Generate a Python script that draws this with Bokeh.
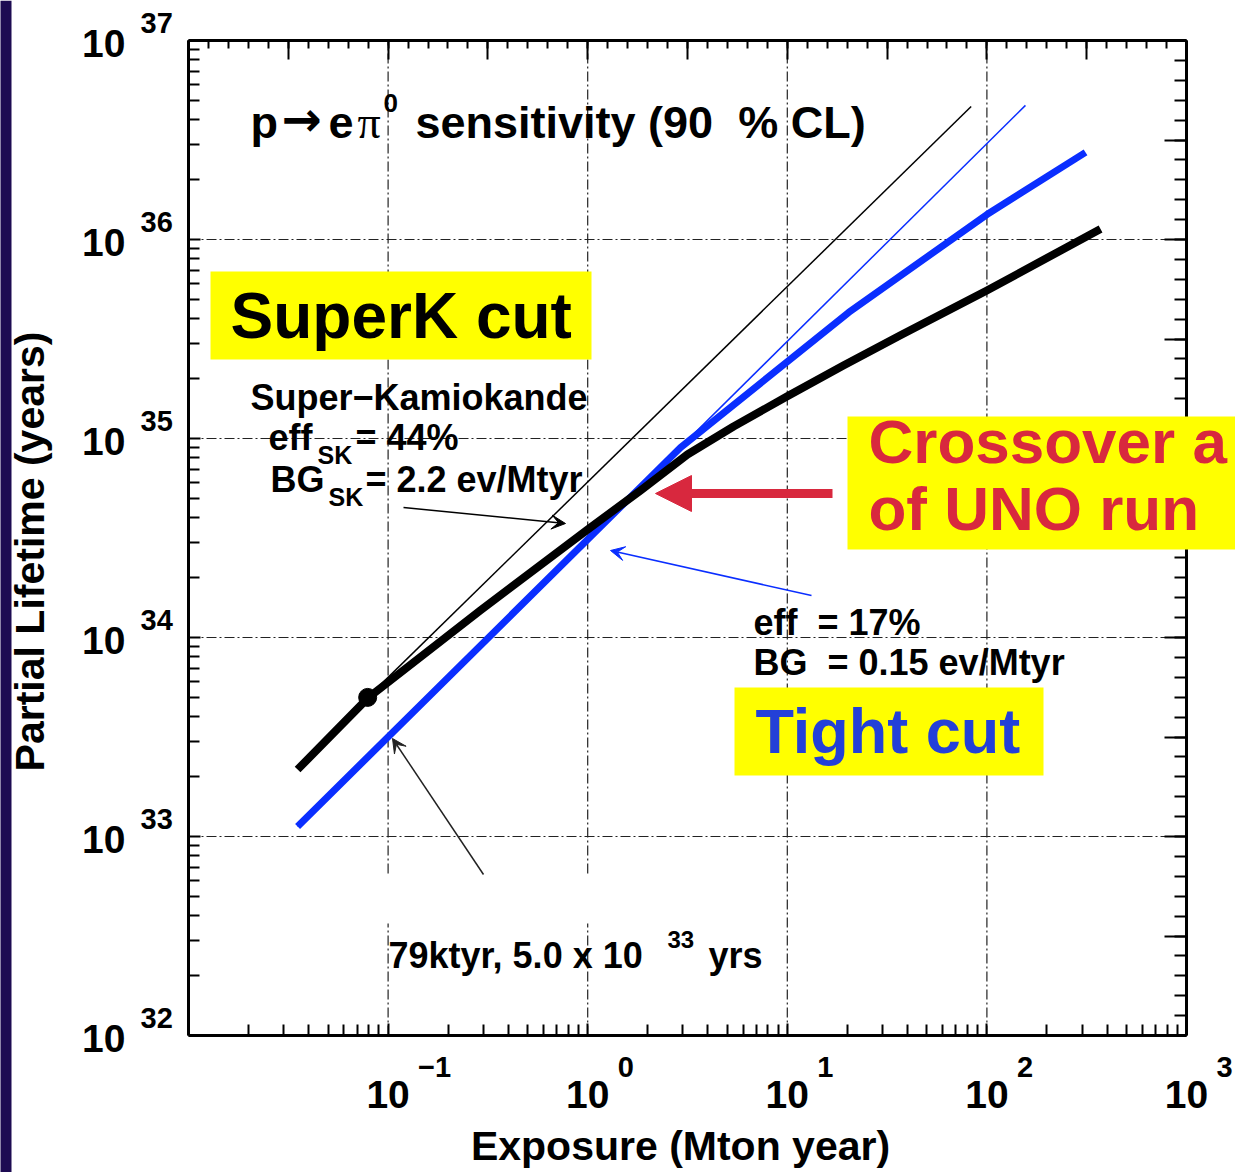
import numpy as np
from bokeh.plotting import figure
from bokeh.models import (LogAxis, FixedTicker, Label, Arrow, VeeHead, NormalHead,
                          BoxAnnotation, Range1d)
from bokeh.embed import file_html
from bokeh.resources import INLINE

# ---------------- data ----------------
# Super-Kamiokande cut (thick black)
exposure_sk = [0.0352, 0.0796, 0.290, 1.0, 1.84, 3.16, 5.38, 10.0,
               19.1, 36.9, 100.0, 371.0]
lifetime_sk = [2.17e33, 4.99e33, 1.37e34, 3.49e34, 5.48e34, 8.31e34,
               1.149e35, 1.63e35, 2.33e35, 3.30e35, 5.54e35, 1.13e36]
# Tight cut (thick blue)
exposure_tight = [0.0352, 2.92, 20.3, 100.0, 312.0]
lifetime_tight = [1.123e33, 9.01e34, 4.30e35, 1.335e36, 2.74e36]
# background-free extrapolations (thin lines)
exposure_sk_bgfree = [0.079, 83.4]
lifetime_sk_bgfree = [5.0e33, 4.66e36]
exposure_tight_bgfree = [0.0352, 156.0]
lifetime_tight_bgfree = [1.123e33, 4.72e36]
# measured SK point: 79 ktyr, 5.0e33 yrs
sk_point_exposure = [0.079]
sk_point_lifetime = [5.0e33]

x_decades = [-2, -1, 0, 1, 2, 3]
y_decades = [32, 33, 34, 35, 36, 37]
x_label_decades = [-1, 0, 1, 2, 3]
x_exp_labels = ["\u22121", "0", "1", "2", "3"]
y_exp_labels = ["32", "33", "34", "35", "36", "37"]
x_grid_values = [0.1, 1.0, 10.0, 100.0]
y_grid_values = [1e33, 1e34, 1e35, 1e36]

XMIN, XMAX = 1e-2, 1e3
YMIN, YMAX = 1e32, 1e37

# ---------------- geometry (page pixels of the axes box) ----------------
W, H = 1235, 1172
X0, X1 = 188, 1186
Y0, Y1 = 40, 1035


def dx(px):
    return 10 ** (-2 + 5.0 * (px - X0) / (X1 - X0))


def dy(py):
    return 10 ** (37 - 5.0 * (py - Y0) / (Y1 - Y0))


def px_of_x(v):
    return X0 + (np.log10(v) + 2) * (X1 - X0) / 5.0


def py_of_y(v):
    return Y0 + (37 - np.log10(v)) * (Y1 - Y0) / 5.0


p = figure(width=W, height=H, x_axis_type="log", y_axis_type="log",
           x_range=Range1d(dx(0), dx(W)), y_range=Range1d(dy(H), dy(0)),
           output_backend="svg", toolbar_location=None,
           min_border=0, min_border_left=0, min_border_right=0,
           min_border_top=0, min_border_bottom=0,
           background_fill_color="white", border_fill_color="white",
           outline_line_color=None)
p.xgrid.visible = False
p.ygrid.visible = False

BLACK = "black"
BLUE = "#0a2eff"
RED = "#d8283e"
YELLOW = "#ffff00"
TBLUE = "#2340d8"
FONT = "Liberation Sans"

x_major = [10.0 ** d for d in x_decades]
x_minor = [m * 10.0 ** d for d in x_decades[:-1] for m in range(2, 10)]
y_major = [10.0 ** d for d in y_decades]
y_minor = [m * 10.0 ** d for d in y_decades[:-1] for m in range(2, 10)]


def style_axis(ax, major_in, minor_in, loc, bounds):
    ax.fixed_location = loc
    ax.bounds = bounds
    ax.major_tick_in = major_in
    ax.major_tick_out = 0
    ax.minor_tick_in = minor_in
    ax.minor_tick_out = 0
    ax.major_tick_line_color = BLACK
    ax.minor_tick_line_color = BLACK
    ax.major_tick_line_width = 2
    ax.minor_tick_line_width = 2
    ax.axis_line_width = 3
    ax.axis_line_color = BLACK
    ax.major_label_text_font_size = "2px"
    ax.major_label_text_alpha = 0
    ax.major_label_standoff = 0
    ax.axis_label = None


# navy slide strip on the far left
p.add_layout(BoxAnnotation(left=dx(-5), right=dx(11), fill_color="#1d0b52",
                           fill_alpha=1.0, line_alpha=0))

# dash-dot grid at the inner decades
p.multi_line(xs=[[v, v] for v in x_grid_values], ys=[[YMIN, YMAX]] * len(x_grid_values),
             line_color="#222222", line_width=1.2, line_dash="10 3 2 3")
p.multi_line(xs=[[XMIN, XMAX]] * len(y_grid_values), ys=[[v, v] for v in y_grid_values],
             line_color="#222222", line_width=1.2, line_dash="10 3 2 3")

xa = p.xaxis[0]
xa.ticker = FixedTicker(ticks=x_major, minor_ticks=x_minor)
style_axis(xa, 12, 11, YMIN, (XMIN, XMAX))
ya = p.yaxis[0]
ya.ticker = FixedTicker(ticks=y_major, minor_ticks=y_minor)
style_axis(ya, 12, 11, XMIN, (YMIN, YMAX))

# top / right: uniform subdivisions in log space (ROOT style)
top = LogAxis(ticker=FixedTicker(ticks=[10 ** (k / 2) for k in range(-4, 7)],
                                 minor_ticks=[10 ** (k / 10) for k in range(-20, 31)]))
style_axis(top, 19, 8, YMAX, (XMIN, XMAX))
p.add_layout(top, "above")
right = LogAxis(ticker=FixedTicker(ticks=[10 ** (k / 2) for k in range(64, 75)],
                                   minor_ticks=[10 ** (k / 10) for k in range(320, 371)]))
style_axis(right, 22, 12, XMAX, (YMIN, YMAX))
p.add_layout(right, "right")

# gap in the vertical grid lines above the annotation text
p.add_layout(BoxAnnotation(left=dx(330), right=dx(700), top=dy(875), bottom=dy(923),
                           fill_color="white", fill_alpha=1.0, line_alpha=0))

# ---------------- curves ----------------
p.line(exposure_sk_bgfree, lifetime_sk_bgfree, line_color=BLACK, line_width=1.5)
p.line(exposure_tight_bgfree, lifetime_tight_bgfree, line_color=BLUE, line_width=1.5)
p.line(exposure_tight, lifetime_tight, line_color=BLUE, line_width=7, line_join="round")
p.line(exposure_sk, lifetime_sk, line_color=BLACK, line_width=8, line_join="round")
p.scatter(sk_point_exposure, sk_point_lifetime, size=18, color=BLACK)

# ---------------- arrows ----------------
p.add_layout(Arrow(x_start=dx(403), y_start=dy(507), x_end=dx(565), y_end=dy(523),
                   line_color=BLACK, line_width=1.5,
                   end=VeeHead(size=14, fill_color=BLACK, line_color=BLACK)))
p.add_layout(Arrow(x_start=dx(811), y_start=dy(595), x_end=dx(610), y_end=dy(550),
                   line_color=BLUE, line_width=1.5,
                   end=VeeHead(size=14, fill_color=BLUE, line_color=BLUE)))
p.add_layout(Arrow(x_start=dx(483), y_start=dy(874), x_end=dx(392), y_end=dy(738),
                   line_color="#222222", line_width=1.5,
                   end=VeeHead(size=14, fill_color="#222222", line_color="#222222")))
# red crossover arrow: shaft + head
p.add_layout(Arrow(x_start=dx(832), y_start=dy(493), x_end=dx(688), y_end=dy(493),
                   line_color=RED, line_width=9, end=None))
p.add_layout(Arrow(x_start=dx(700), y_start=dy(493), x_end=dx(655), y_end=dy(493),
                   line_alpha=0, line_width=1,
                   end=NormalHead(size=36, fill_color=RED, line_color=RED)))

# ---------------- text ----------------
SHIFT = 0.35  # renderer places the baseline about 0.35 em below the anchor


def lab(px, py, text, size, color=BLACK, align="left", font=FONT, style="bold",
        angle=0.0):
    if angle == 0.0:
        x, y = dx(px), dy(py - SHIFT * size)
    else:
        x, y = dx(px - SHIFT * size), dy(py)
    p.add_layout(Label(x=x, y=y, text=text, text_font=font,
                       text_font_size=f"{size}px", text_font_style=style,
                       text_color=color, text_align=align, text_baseline="alphabetic",
                       angle=angle))


NB = "\u00a0"

# tick labels (10 with raised exponent)
for d, e in zip(x_label_decades, x_exp_labels):
    tx = px_of_x(10.0 ** d)
    lab(tx, 1108, "10", 39, align="center")
    lab(tx + 30, 1077, e, 29)
for d, e in zip(y_decades, y_exp_labels):
    ty = py_of_y(10.0 ** d)
    lab(125, ty + 17, "10", 39, align="right")
    lab(140, ty - 7, e, 29)

# axis titles
lab(680, 1160, "Exposure (Mton year)", 41, align="center")
lab(44, 551, "Partial Lifetime (years)", 41, align="center", angle=np.pi / 2)

# plot title  p -> e pi0 sensitivity (90 % CL)
lab(250, 138, "p", 45)
lab(281, 135, "\u2192", 48, font="DejaVu Sans")
lab(328, 138, "e", 45)
lab(357, 138, "\u03c0", 46, font="Liberation Serif", style="normal")
lab(383, 112, "0", 26)
lab(415, 138, "sensitivity (90" + NB + NB + "% CL)", 45)

# SK annotation
lab(250, 410, "Super\u2212Kamiokande", 36)
lab(268, 450, "eff", 36)
lab(317, 463, "SK", 25)
lab(355, 450, "= 44%", 36)
lab(270, 492, "BG", 36)
lab(328, 505, "SK", 25)
lab(365, 492, "= 2.2 ev/Mtyr", 36)

# tight-cut annotation
lab(753, 635, "eff" + NB + NB + "= 17%", 36)
lab(753, 675, "BG" + NB + NB + "= 0.15 ev/Mtyr", 36)

# measured point annotation
lab(388, 968, "79ktyr, 5.0 x 10", 36)
lab(667, 947, "33", 24)
lab(708, 968, "yrs", 36)

# yellow boxes
p.add_layout(BoxAnnotation(left=dx(210), right=dx(591), top=dy(271), bottom=dy(359),
                           fill_color=YELLOW, fill_alpha=1.0, line_alpha=0))
lab(230, 338, "SuperK cut", 64)
p.add_layout(BoxAnnotation(left=dx(734), right=dx(1043), top=dy(687), bottom=dy(775),
                           fill_color=YELLOW, fill_alpha=1.0, line_alpha=0))
lab(755, 753, "Tight cut", 63, color=TBLUE)
p.add_layout(BoxAnnotation(left=dx(847), right=dx(1260), top=dy(416), bottom=dy(549),
                           fill_color=YELLOW, fill_alpha=1.0, line_alpha=0))
lab(868, 463, "Crossover a", 62, color=RED)
lab(868, 530, "of UNO run", 62, color=RED)

open("out.html", "w").write(file_html(p, INLINE))
